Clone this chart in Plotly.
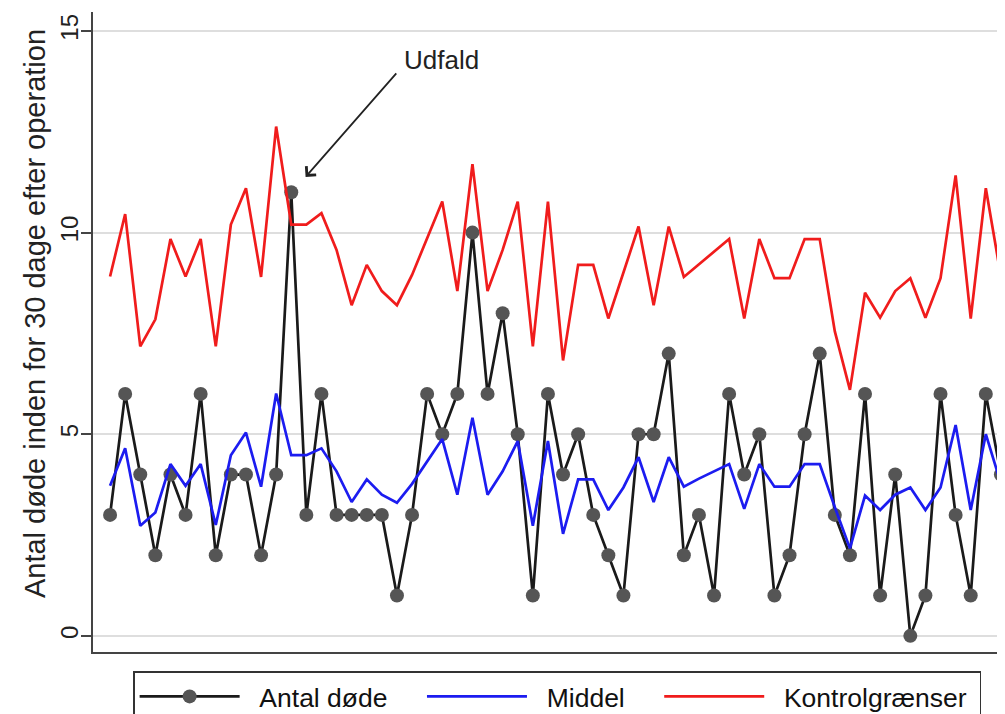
import plotly.graph_objects as go

periods = list(range(1, 61))

deaths = [3, 6, 4, 2, 4, 3, 6, 2, 4, 4, 2, 4, 11, 3, 6,
          3, 3, 3, 3, 1, 3, 6, 5, 6, 10, 6, 8, 5, 1, 6,
          4, 5, 3, 2, 1, 5, 5, 7, 2, 3, 1, 6, 4, 5, 1,
          2, 5, 7, 3, 2, 6, 1, 4, 0, 1, 6, 3, 1, 6, 4]

mean_line = [3.72, 4.65, 2.73, 3.06, 4.26, 3.72, 4.26, 2.75, 4.48, 5.04, 3.70, 6.01, 4.48, 4.48, 4.65,
             4.08, 3.32, 3.88, 3.50, 3.30, 3.77, 4.34, 4.88, 3.50, 5.41, 3.50, 4.08, 4.83, 2.73, 4.83,
             2.53, 3.88, 3.88, 3.12, 3.68, 4.43, 3.32, 4.43, 3.70, 3.90, 4.08, 4.26, 3.15, 4.26, 3.70,
             3.70, 4.26, 4.26, 3.19, 2.17, 3.48, 3.12, 3.50, 3.68, 3.12, 3.68, 5.23, 3.12, 5.00, 3.77]

control_limit = [8.91, 10.46, 7.18, 7.85, 9.84, 8.91, 9.84, 7.18, 10.20, 11.10, 8.90, 12.63, 10.20, 10.20, 10.48,
                 9.57, 8.20, 9.20, 8.55, 8.20, 8.95, 9.84, 10.77, 8.55, 11.70, 8.55, 9.57, 10.77, 7.18, 10.77,
                 6.83, 9.20, 9.20, 7.87, 9.00, 10.15, 8.20, 10.15, 8.90, 9.21, 9.53, 9.84, 7.87, 9.84, 8.87,
                 8.87, 9.84, 9.84, 7.55, 6.10, 8.51, 7.89, 8.55, 8.87, 7.89, 8.87, 11.42, 7.87, 11.10, 8.91]

y_ticks = [0, 5, 10, 15]
y_title = "Antal døde inden for 30 dage efter operation"
annotation_text = "Udfald"
series_names = ["Antal døde", "Middel", "Kontrolgrænser"]

FONT = "Liberation Sans, Arial, sans-serif"
NB = "\u00a0"


def legend_label(name, trailing):
    return NB * 2 + name + NB * trailing


fig = go.Figure()
fig.add_trace(go.Scatter(
    x=periods, y=deaths, name=legend_label(series_names[0], 4), mode="lines+markers",
    line=dict(color="#1a1a1a", width=2.7),
    marker=dict(color="#555555", size=14),
))
fig.add_trace(go.Scatter(
    x=periods, y=mean_line, name=legend_label(series_names[1], 4), mode="lines",
    line=dict(color="#1c1cf0", width=2.7),
))
fig.add_trace(go.Scatter(
    x=periods, y=control_limit, name=legend_label(series_names[2], 1), mode="lines",
    line=dict(color="#f01c1c", width=2.7),
))

imax = deaths.index(max(deaths))
tip_x = periods[imax] + 0.95
tip_y = deaths[imax] + 0.38
fig.add_annotation(x=tip_x, y=tip_y, text="", showarrow=True,
                   ax=92, ay=-105, arrowhead=4, arrowsize=1.4, arrowwidth=1.8,
                   arrowcolor="#222222")
fig.add_annotation(x=tip_x, y=tip_y, text=annotation_text, showarrow=False,
                   xanchor="left", yanchor="middle", xshift=96, yshift=117,
                   font=dict(family=FONT, size=26, color="#222222"))

# y-axis title placed as rotated text left of the tick labels
fig.add_annotation(xref="paper", yref="paper", x=0, y=0.528, xshift=-58,
                   text=y_title, textangle=-90, showarrow=False,
                   xanchor="center", yanchor="middle",
                   font=dict(family=FONT, size=29, color="#222222"))

fig.update_layout(
    width=997, height=706,
    margin=dict(l=85, r=0, t=4, b=62, autoexpand=False),
    paper_bgcolor="white", plot_bgcolor="white",
    font=dict(family=FONT, size=24, color="#222222"),
    showlegend=True,
    legend=dict(
        orientation="h", x=0.044, xanchor="left", y=-0.03, yanchor="top",
        bordercolor="#333333", borderwidth=1.5, bgcolor="white",
        font=dict(family=FONT, size=26.5, color="#111111"),
        itemwidth=100, traceorder="normal",
    ),
    xaxis=dict(
        range=[-0.13, 60.27], showgrid=False, zeroline=False,
        showline=True, linecolor="#444444", linewidth=2,
        showticklabels=False, ticks="", automargin=False,
    ),
    yaxis=dict(
        range=[-0.40, 15.47], tickvals=y_ticks, ticks="outside", ticklen=10,
        tickwidth=1.5, tickcolor="#444444", tickangle=-90,
        ticklabelstandoff=-7,
        showline=True, linecolor="#444444", linewidth=2,
        showgrid=True, gridcolor="#dedede", gridwidth=2, zeroline=False,
        tickfont=dict(family=FONT, size=24, color="#222222"),
        automargin=False,
    ),
)

fig.write_html("out.html")
